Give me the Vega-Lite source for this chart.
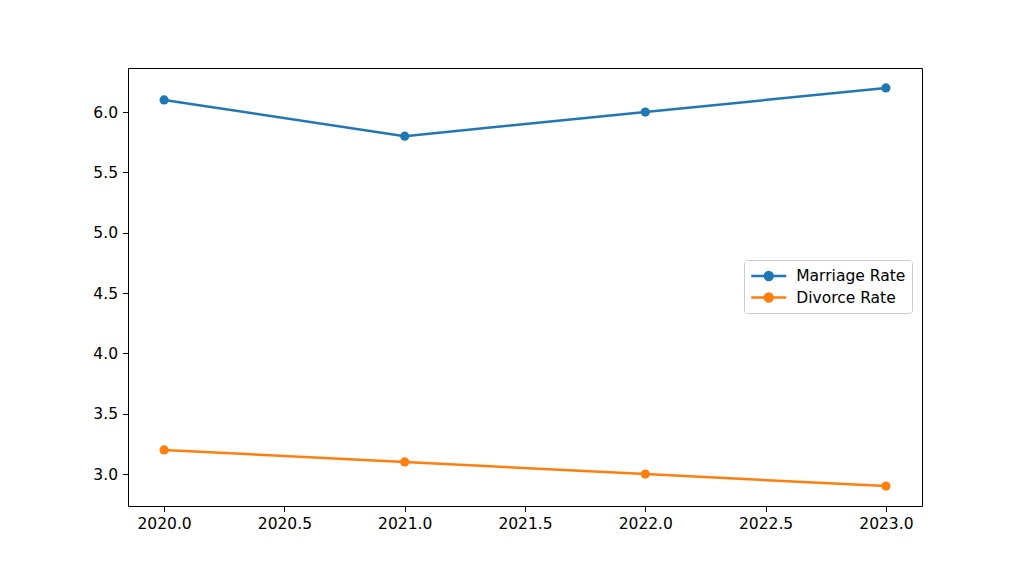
{
  "$schema": "https://vega.github.io/schema/vega-lite/v6.json",
  "width": 794,
  "height": 438,
  "autosize": {"type": "none"},
  "padding": {"left": 128, "top": 68, "right": 102, "bottom": 63},
  "background": "white",
  "config": {
    "view": {"stroke": "black", "strokeWidth": 1},
    "font": "DejaVu Sans",
    "axis": {
      "grid": false,
      "domain": false,
      "tickColor": "black",
      "tickSize": 5.5,
      "tickWidth": 1,
      "labelColor": "black",
      "labelFont": "DejaVu Sans",
      "labelFontSize": 15.5,
      "labelPadding": 5,
      "title": null
    }
  },
  "data": {
    "values": [
      {"year": 2020, "rate": 6.1, "series": "Marriage Rate"},
      {"year": 2021, "rate": 5.8, "series": "Marriage Rate"},
      {"year": 2022, "rate": 6.0, "series": "Marriage Rate"},
      {"year": 2023, "rate": 6.2, "series": "Marriage Rate"},
      {"year": 2020, "rate": 3.2, "series": "Divorce Rate"},
      {"year": 2021, "rate": 3.1, "series": "Divorce Rate"},
      {"year": 2022, "rate": 3.0, "series": "Divorce Rate"},
      {"year": 2023, "rate": 2.9, "series": "Divorce Rate"}
    ]
  },
  "encoding": {
    "x": {
      "field": "year",
      "type": "quantitative",
      "scale": {"domain": [2019.85, 2023.15], "nice": false, "zero": false},
      "axis": {"values": [2020, 2020.5, 2021, 2021.5, 2022, 2022.5, 2023], "format": ".1f", "labelFlush": false}
    },
    "y": {
      "field": "rate",
      "type": "quantitative",
      "scale": {"domain": [2.735, 6.365], "nice": false, "zero": false},
      "axis": {"values": [3.0, 3.5, 4.0, 4.5, 5.0, 5.5, 6.0], "format": ".1f", "labelFlush": false}
    },
    "color": {
      "field": "series",
      "type": "nominal",
      "scale": {"domain": ["Marriage Rate", "Divorce Rate"], "range": ["#1f77b4", "#ff7f0e"]},
      "legend": {
        "title": null,
        "orient": "none",
        "legendX": 616,
        "legendY": 192,
        "symbolType": "M-2,0L2,0M-0.45,0A0.45,0.45,0,1,1,0.45,0A0.45,0.45,0,1,1,-0.45,0Z",
        "symbolSize": 306,
        "symbolOffset": 8.75,
        "symbolStrokeWidth": 2.5,
        "symbolOpacity": 1,
        "labelFont": "DejaVu Sans",
        "labelFontSize": 15.5,
        "labelColor": "black",
        "labelOffset": 17.5,
        "rowPadding": 2.5,
        "padding": 6,
        "strokeColor": "#cccccc",
        "fillColor": "white",
        "cornerRadius": 3
      }
    }
  },
  "layer": [
    {"mark": {"type": "line", "strokeWidth": 2.5}},
    {"mark": {"type": "point", "filled": true, "size": 85, "opacity": 1, "shape": "circle"}}
  ]
}
